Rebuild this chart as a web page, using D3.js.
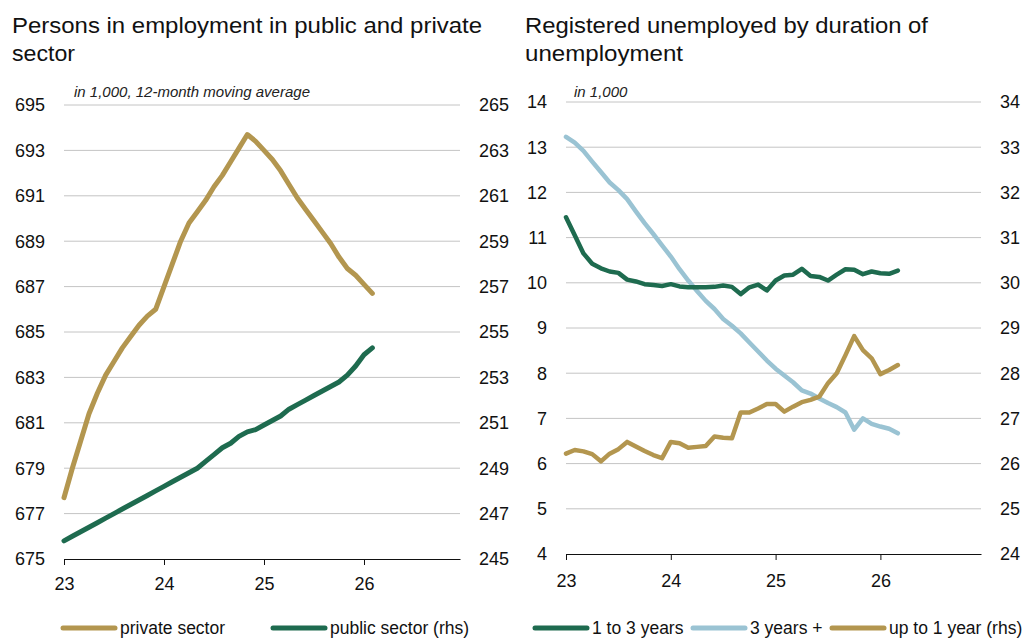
<!DOCTYPE html>
<html>
<head>
<meta charset="utf-8">
<script src="https://cdn.jsdelivr.net/npm/d3@7"></script>
<style>
  html, body { margin: 0; padding: 0; background: #fff; }
  svg { display: block; font-family: "Liberation Sans", Arial, sans-serif; }
</style>
</head>
<body>
<div id="chart"></div>
<script>
// x positions are years (two-digit), monthly data starting Jan 2023
const yearTicks = [23, 24, 25, 26]

// left panel: persons in employment, 12-month moving average (in 1,000)
const privateSector = [677.7, 679.0, 680.2, 681.4, 682.3, 683.1, 683.7, 684.3, 684.8, 685.3,
    685.7, 686.0, 687.0, 688.0, 689.0, 689.8, 690.3, 690.8, 691.4, 691.9,
    692.5, 693.1, 693.7, 693.4, 693.0, 692.6, 692.1, 691.5, 690.9, 690.4,
    689.9, 689.4, 688.9, 688.3, 687.8, 687.5, 687.1, 686.7]
const publicSector = [245.8, 246.0, 246.2, 246.4, 246.6, 246.8, 247.0, 247.2, 247.4, 247.6,
    247.8, 248.0, 248.2, 248.4, 248.6, 248.8, 249.0, 249.3, 249.6, 249.9,
    250.1, 250.4, 250.6, 250.7, 250.9, 251.1, 251.3, 251.6, 251.8, 252.0,
    252.2, 252.4, 252.6, 252.8, 253.1, 253.5, 254.0, 254.3]
const empLeftTicks = [675, 677, 679, 681, 683, 685, 687, 689, 691, 693, 695]
const empRightTicks = [245, 247, 249, 251, 253, 255, 257, 259, 261, 263, 265]

// right panel: registered unemployed by duration (in 1,000)
const oneToThree = [11.45, 11.05, 10.65, 10.42, 10.32, 10.25, 10.22, 10.07, 10.03, 9.97,
    9.95, 9.93, 9.97, 9.92, 9.90, 9.90, 9.90, 9.91, 9.94, 9.91,
    9.75, 9.90, 9.96, 9.83, 10.05, 10.16, 10.18, 10.31, 10.15, 10.13,
    10.05, 10.18, 10.30, 10.29, 10.19, 10.25, 10.21, 10.20, 10.27]
const threePlus = [13.23, 13.10, 12.92, 12.68, 12.45, 12.22, 12.05, 11.85, 11.58, 11.32,
    11.08, 10.83, 10.58, 10.30, 10.05, 9.82, 9.60, 9.42, 9.20, 9.05,
    8.88, 8.68, 8.48, 8.28, 8.10, 7.95, 7.80, 7.62, 7.55, 7.44,
    7.34, 7.25, 7.13, 6.75, 7.00, 6.88, 6.82, 6.77, 6.67]
const upToOne = [26.22, 26.30, 26.27, 26.21, 26.05, 26.22, 26.32, 26.48, 26.38, 26.28,
    26.19, 26.12, 26.48, 26.45, 26.35, 26.37, 26.39, 26.60, 26.57, 26.56,
    27.13, 27.13, 27.22, 27.32, 27.32, 27.15, 27.26, 27.36, 27.41, 27.48,
    27.78, 28.00, 28.40, 28.82, 28.51, 28.33, 27.98, 28.07, 28.18]
const unempLeftTicks = d3.range(4, 15)
const unempRightTicks = d3.range(24, 35)

const gold = '#B3964F'
const green = '#1E6B4F'
const lightBlue = '#9AC3D3'

const svg = d3.select('#chart').append('svg')
    .attr('width', 1023)
    .attr('height', 638)

/**
 * draws one panel with a left and right axis
 */
function drawPanel(cfg) {
    const g = svg.append('g')

    // title, two lines (stretched to the width they take in the original)
    g.append('g')
        .selectAll('text')
        .data(cfg.title)
        .join('text')
        .attr('x', cfg.titleX)
        .attr('y', (d, i) => 33 + i * 28)
        .attr('textLength', (d, i) => cfg.titleWidths[i])
        .attr('lengthAdjust', 'spacingAndGlyphs')
        .style('font-size', '22px').attr('fill', '#111')
        .text(d => d)

    const x = d3.scaleLinear().domain([23, 26.96]).range(cfg.xRange)
    const yL = d3.scaleLinear().domain(d3.extent(cfg.leftTicks)).range(cfg.yRange)
    const yR = d3.scaleLinear().domain(d3.extent(cfg.rightTicks)).range(cfg.yRange)

    // gridlines (skip the bottom one, the axis line is drawn there)
    g.append('g')
        .selectAll('line')
        .data(cfg.leftTicks.slice(1))
        .join('line')
        .attr('x1', cfg.xRange[0]).attr('x2', cfg.xRange[1])
        .attr('y1', d => yL(d)).attr('y2', d => yL(d))
        .attr('stroke', '#c4c4c4').attr('stroke-width', 1)

    // left tick labels
    g.append('g')
        .selectAll('text')
        .data(cfg.leftTicks)
        .join('text')
        .attr('x', cfg.leftLabelX).attr('y', d => yL(d))
        .attr('dy', '0.36em')
        .attr('text-anchor', 'end')
        .style('font-size', '18px').attr('fill', '#111')
        .text(d => d)

    // right tick labels
    g.append('g')
        .selectAll('text')
        .data(cfg.rightTicks)
        .join('text')
        .attr('x', cfg.rightLabelX).attr('y', d => yR(d))
        .attr('dy', '0.36em')
        .style('font-size', '18px').attr('fill', '#111')
        .text(d => d)

    // x axis
    const xAxis = g.append('g')
        .attr('transform', `translate(0,${cfg.yRange[0]})`)
        .call(d3.axisBottom(x).tickValues(yearTicks).tickSize(6).tickSizeOuter(0).tickPadding(cfg.xPad).tickFormat(d => d))
    xAxis.select('.domain').attr('stroke', '#111')
    xAxis.selectAll('.tick line').attr('stroke', '#111')
    xAxis.selectAll('.tick text')
        .style('font-size', '18px').style('font-family', '"Liberation Sans", Arial, sans-serif')
        .attr('fill', '#111')

    // subtitle
    g.append('text')
        .attr('x', cfg.subX).attr('y', 97)
        .style('font-size', '15px').style('font-style', 'italic')
        .attr('fill', '#222')
        .text(cfg.subtitle)

    // lines
    for (const s of cfg.series) {
        const y = s.rhs ? yR : yL
        const line = d3.line()
            .x((d, i) => x(23 + i / 12))
            .y(d => y(d))
        g.append('path')
            .datum(s.values)
            .attr('d', line)
            .attr('fill', 'none')
            .attr('stroke', s.color)
            .attr('stroke-width', s.width)
            .attr('stroke-linejoin', 'round')
            .attr('stroke-linecap', 'round')
    }

    // legend
    const leg = g.append('g')
        .selectAll('g')
        .data(cfg.series.slice().sort((a, b) => a.legendOrder - b.legendOrder))
        .join('g')
        .attr('transform', d => `translate(${d.legendX},628)`)
    leg.append('line')
        .attr('x1', 0).attr('x2', 52)
        .attr('stroke', d => d.color).attr('stroke-width', 5)
        .attr('stroke-linecap', 'round')
    leg.append('text')
        .attr('x', 57).attr('dy', '0.36em')
        .style('font-size', '17.5px').attr('fill', '#111')
        .text(d => d.name)
}

drawPanel({
    title: ['Persons in employment in public and private', 'sector'],
    titleWidths: [470, 63],
    titleX: 12,
    subtitle: 'in 1,000, 12-month moving average',
    subX: 74,
    xRange: [64, 460],
    yRange: [559, 105],
    xPad: 12,
    leftTicks: empLeftTicks,
    rightTicks: empRightTicks,
    leftLabelX: 45,
    rightLabelX: 479,
    series: [
        {name: 'public sector (rhs)', values: publicSector, color: green, width: 5, rhs: true, legendX: 273, legendOrder: 1},
        {name: 'private sector', values: privateSector, color: gold, width: 5, rhs: false, legendX: 63, legendOrder: 0}
    ]
})

drawPanel({
    title: ['Registered unemployed by duration of', 'unemployment'],
    titleWidths: [403, 158],
    titleX: 525,
    subtitle: 'in 1,000',
    subX: 574,
    xRange: [566, 981],
    yRange: [554, 102],
    xPad: 14,
    leftTicks: unempLeftTicks,
    rightTicks: unempRightTicks,
    leftLabelX: 547,
    rightLabelX: 1000,
    series: [
        {name: '3 years +', values: threePlus, color: lightBlue, width: 4.5, rhs: false, legendX: 693, legendOrder: 1},
        {name: 'up to 1 year (rhs)', values: upToOne, color: gold, width: 4.5, rhs: true, legendX: 832, legendOrder: 2},
        {name: '1 to 3 years', values: oneToThree, color: green, width: 4.5, rhs: false, legendX: 535, legendOrder: 0}
    ]
})
</script>
</body>
</html>
